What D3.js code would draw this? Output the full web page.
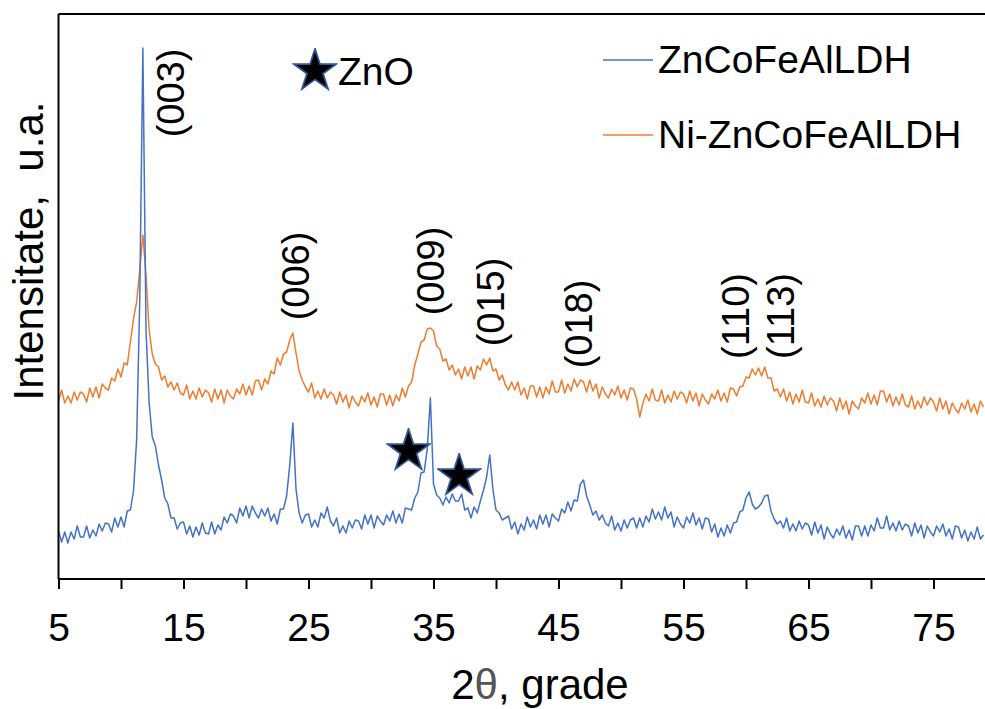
<!DOCTYPE html>
<html>
<head>
<meta charset="utf-8">
<script src="https://cdn.jsdelivr.net/npm/d3@7"></script>
<style>
    body { margin: 0; background: #fff; }
    svg { display: block; font-family: "Liberation Sans", Arial, sans-serif; }
</style>
</head>
<body>
<svg id="chart" width="985" height="709"></svg>
<script>
"use strict";

// 2theta scan, 0.25 degree step from 5 to 79
var angleStart = 5;
var angleStep = 0.25;

// ZnCoFeAlLDH (lower trace), intensity
var znCoFeAl = [
    480, 370, 470, 360, 470, 400, 530, 420,
    420, 530, 410, 490, 430, 550, 480, 560,
    550, 470, 610, 520, 620, 520, 680, 690,
    880, 1390, 2790, 5310, 2490, 1760, 1420, 1330,
    1140, 990, 810, 750, 610, 610, 500, 560,
    570, 450, 530, 420, 520, 440, 560, 460,
    450, 570, 450, 540, 490, 620, 560, 650,
    630, 560, 710, 630, 730, 610, 730, 660,
    610, 700, 630, 710, 580, 650, 550, 700,
    700, 830, 1140, 1560, 900, 660, 560, 640,
    650, 520, 590, 520, 660, 610, 720, 580,
    530, 610, 460, 530, 460, 580, 510, 590,
    580, 500, 640, 550, 640, 510, 630, 580,
    540, 640, 580, 680, 560, 650, 560, 710,
    700, 690, 810, 870, 1060, 1070, 1300, 1810,
    950, 840, 810, 740, 820, 760, 850, 780,
    780, 850, 690, 710, 610, 720, 660, 780,
    890, 1020, 1240, 900, 690, 660, 590, 610,
    630, 500, 570, 450, 550, 490, 620, 520,
    590, 500, 640, 550, 640, 520, 650, 610,
    580, 700, 660, 770, 680, 790, 780, 950,
    990, 830, 740, 640, 680, 590, 640, 560,
    530, 630, 490, 560, 480, 590, 510, 590,
    610, 510, 610, 520, 630, 570, 700, 600,
    670, 590, 720, 610, 670, 520, 620, 550,
    510, 620, 560, 660, 540, 610, 500, 610,
    600, 470, 550, 420, 510, 430, 540, 460,
    560, 570, 670, 690, 810, 870, 750, 700,
    720, 760, 830, 840, 680, 600, 550, 580,
    510, 610, 480, 550, 480, 580, 500, 560,
    540, 440, 570, 460, 540, 400, 520, 450,
    410, 500, 440, 530, 410, 490, 390, 530,
    530, 430, 530, 430, 540, 480, 610, 510,
    510, 630, 490, 560, 480, 580, 490, 550,
    530, 430, 560, 460, 540, 410, 530, 470,
    430, 530, 470, 550, 430, 500, 400, 530,
    520, 410, 490, 380, 470, 400, 520, 400,
    440
];

// Ni-ZnCoFeAlLDH (upper trace)
var niZnCoFeAl = [
    1780, 1890, 1760, 1830, 1760, 1870, 1790, 1870,
    1850, 1770, 1910, 1820, 1920, 1810, 1950, 1910,
    1890, 2010, 1980, 2100, 2020, 2160, 2140, 2370,
    2600, 2770, 3090, 3440, 3040, 2490, 2250, 2150,
    2120, 1990, 2030, 1920, 1970, 1890, 1960, 1860,
    1840, 1940, 1800, 1880, 1800, 1910, 1820, 1890,
    1860, 1770, 1900, 1800, 1890, 1760, 1890, 1830,
    1800, 1900, 1850, 1950, 1840, 1930, 1840, 1980,
    1990, 1890, 2000, 1950, 2080, 2050, 2210, 2140,
    2250, 2270, 2390, 2460, 2260, 2080, 1990, 1920,
    1870, 1960, 1810, 1880, 1800, 1900, 1810, 1870,
    1840, 1750, 1870, 1770, 1840, 1710, 1830, 1770,
    1730, 1830, 1770, 1860, 1740, 1820, 1720, 1850,
    1850, 1740, 1840, 1730, 1840, 1780, 1910, 1820,
    1930, 1970, 2140, 2250, 2370, 2390, 2500, 2510,
    2480, 2330, 2300, 2180, 2200, 2090, 2140, 2040,
    2100, 2000, 2120, 2030, 2120, 2000, 2130, 2090,
    2200, 2140, 2210, 2080, 2100, 1990, 2040, 1940,
    1890, 1970, 1890, 1970, 1840, 1910, 1800, 1930,
    1930, 1820, 1920, 1810, 1920, 1850, 1980, 1870,
    1870, 1990, 1860, 1950, 1880, 2000, 1920, 1990,
    1970, 1870, 1990, 1880, 1950, 1810, 1920, 1850,
    1810, 1900, 1840, 1930, 1810, 1890, 1790, 1910,
    1900, 1800, 1620, 1760, 1850, 1780, 1900, 1790,
    1780, 1890, 1760, 1840, 1770, 1880, 1800, 1870,
    1850, 1760, 1880, 1780, 1860, 1730, 1850, 1790,
    1750, 1850, 1800, 1890, 1780, 1860, 1770, 1910,
    1900, 1830, 1920, 1930, 2020, 2010, 2100, 2040,
    2110, 2030, 2120, 2010, 2010, 1880, 1900, 1820,
    1900, 1780, 1870, 1750, 1850, 1770, 1890, 1770,
    1760, 1860, 1730, 1800, 1720, 1830, 1740, 1810,
    1780, 1680, 1810, 1700, 1780, 1650, 1780, 1730,
    1700, 1810, 1760, 1860, 1750, 1840, 1740, 1880,
    1880, 1770, 1850, 1730, 1820, 1740, 1850, 1740,
    1720, 1830, 1700, 1780, 1710, 1820, 1740, 1810,
    1770, 1680, 1810, 1700, 1780, 1650, 1760, 1700,
    1660, 1760, 1700, 1790, 1670, 1750, 1650, 1780,
    1720
];

var xTicks = [5, 10, 15, 20, 25, 30, 35, 40, 45, 50, 55, 60, 65, 70, 75];
var xLabelTicks = [5, 15, 25, 35, 45, 55, 65, 75];

// Miller indices written over the peaks: angle and intensity level of label centre
var peakNames = ['(003)', '(006)', '(009)', '(015)', '(018)', '(110)', '(113)'];
var peakAngles = [14.15, 24.1, 34.9, 39.75, 46.8, 59.3, 62.9];
var peakLevels = [4860, 3030, 3080, 2770, 2550, 2630, 2630];

// ZnO reflections marked with a star
var znoAngles = [33.0, 37.05];
var znoLevels = [1280, 1030];

var series = [
    { name: 'ZnCoFeAlLDH', color: '#4472C4', values: znCoFeAl },
    { name: 'Ni-ZnCoFeAlLDH', color: '#ED7D31', values: niZnCoFeAl }
];

function toPoints(values) {
    return values.map(function (v, i) {
        return { angle: angleStart + i * angleStep, value: v };
    });
}

function create_graph(selector) {
    var svg = d3.select(selector);

    var left = 58.5, right = 985, top = 14, bottom = 579;

    var x = d3.scaleLinear().domain([5, 79.12]).range([left, right]);
    var y = d3.scaleLinear().domain([0, 5650]).range([bottom, top]);

    var line = d3.line()
        .x(function (d) { return x(d.angle); })
        .y(function (d) { return y(d.value); });

    // glow for the stars
    var defs = svg.append('defs');
    defs.append('filter').attr('id', 'soft')
        .append('feGaussianBlur').attr('stdDeviation', 0.7);

    // orange first so the blue spike sits on top
    var plotG = svg.append('g').attr('class', 'plot-g');
    [series[1], series[0]].forEach(function (s) {
        plotG.append('path')
            .datum(toPoints(s.values))
            .attr('d', line)
            .attr('fill', 'none')
            .attr('stroke', s.color)
            .attr('stroke-width', 1.5)
            .attr('stroke-linejoin', 'round');
    });

    // frame: top line and left axis
    svg.append('line')
        .attr('x1', left).attr('x2', right)
        .attr('y1', top).attr('y2', top)
        .attr('stroke', '#000').attr('stroke-width', 2);
    svg.append('line')
        .attr('x1', left).attr('x2', left)
        .attr('y1', top).attr('y2', bottom)
        .attr('stroke', '#000').attr('stroke-width', 2);

    var xAxis = d3.axisBottom(x)
        .tickValues(xTicks)
        .tickSize(10)
        .tickPadding(24)
        .tickFormat(function (d) {
            return xLabelTicks.indexOf(d) >= 0 ? d : '';
        });
    var gX = svg.append('g')
        .attr('class', 'axis axis-x')
        .attr('transform', 'translate(0,' + bottom + ')')
        .call(xAxis);
    gX.select('.domain').attr('stroke-width', 2).attr('d', 'M' + left + ',0H' + right);
    gX.selectAll('.tick line').attr('stroke-width', 2);
    gX.selectAll('.tick text')
        .attr('font-size', 39)
        .attr('font-family', '"Liberation Sans", Arial, sans-serif')
        .attr('fill', '#000');

    // axis titles
    var xTitle = svg.append('text')
        .attr('x', 540).attr('y', 699)
        .attr('text-anchor', 'middle')
        .attr('font-size', 42);
    xTitle.append('tspan').text('2');
    xTitle.append('tspan').attr('fill', '#555').text('θ');
    xTitle.append('tspan').text(', grade');

    svg.append('text')
        .attr('transform', 'translate(43,251) rotate(-90)')
        .attr('text-anchor', 'middle')
        .attr('font-size', 42)
        .attr('xml:space', 'preserve')
        .text('Intensitate,  u.a.');

    // peak labels
    peakNames.forEach(function (name, i) {
        svg.append('text')
            .attr('transform', 'translate(' + x(peakAngles[i]) + ',' + y(peakLevels[i]) + ') rotate(-90)')
            .attr('text-anchor', 'middle')
            .attr('dy', '0.3em')
            .attr('font-size', 38)
            .text(name);
    });

    var star = d3.symbol().type(d3.symbolStar).size(420);

    function drawStar(cx, cy) {
        var g = svg.append('g').attr('transform', 'translate(' + cx + ',' + cy + ')');
        g.append('path').attr('d', star())
            .attr('fill', 'none')
            .attr('stroke', '#2F5597')
            .attr('stroke-width', 3.5)
            .attr('filter', 'url(#soft)');
        g.append('path').attr('d', star())
            .attr('fill', '#000');
    }

    znoAngles.forEach(function (a, i) {
        drawStar(x(a), y(znoLevels[i]));
    });

    // ZnO key
    drawStar(315, 71);
    svg.append('text')
        .attr('x', 338).attr('y', 85)
        .attr('font-size', 39)
        .text('ZnO');

    // legend
    var legendG = svg.append('g').attr('class', 'legend-g');
    series.forEach(function (s, i) {
        var ly = 60 + i * 75;
        legendG.append('line')
            .attr('x1', 603).attr('x2', 653)
            .attr('y1', ly).attr('y2', ly)
            .attr('stroke', s.color)
            .attr('stroke-width', 1.5);
        legendG.append('text')
            .attr('x', 658).attr('y', ly + 13)
            .attr('font-size', 39)
            .text(s.name);
    });
}

create_graph('#chart');
</script>
</body>
</html>
